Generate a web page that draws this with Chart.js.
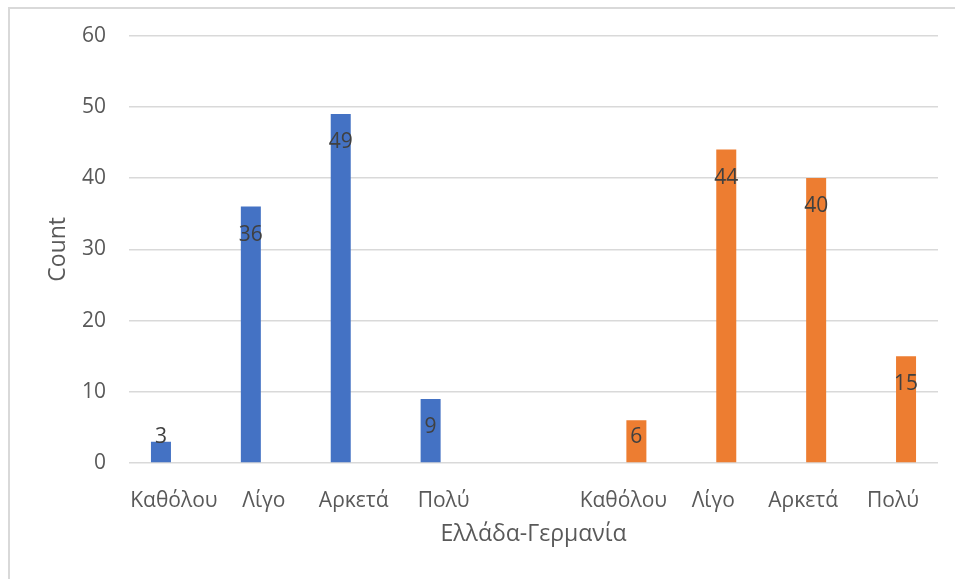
<!DOCTYPE html>
<html lang="el">
<head>
    <meta charset="UTF-8">
    <title>Ελλάδα-Γερμανία</title>
    <script src="https://cdn.jsdelivr.net/npm/chart.js"></script>
    <style>
        html, body { margin: 0; padding: 0; background: #fff; overflow: hidden; }
        .frame {
            position: absolute; left: 8px; top: 7px;
            width: 1000px; height: 700px;
            border-left: 2px solid #d9d9d9;
            border-top: 2px solid #d9d9d9;
        }
        .chart-box { position: absolute; left: 0; top: 0; width: 955px; height: 579px; }
    </style>
</head>
<body>
    <div class="frame"></div>
    <div class="chart-box">
        <canvas id="countChart"></canvas>
    </div>

    <script>
        // Answer categories, left group is Greece, right group is Germany (empty slot between)
        const categories = ['Καθόλου', 'Λίγο', 'Αρκετά', 'Πολύ', '', 'Καθόλου', 'Λίγο', 'Αρκετά', 'Πολύ'];
        const greece = [3, 36, 49, 9, null, null, null, null, null];
        const germany = [null, null, null, null, null, 6, 44, 40, 15];
        const yTicks = [0, 10, 20, 30, 40, 50, 60];

        const FONT = "'Open Sans', 'Noto Sans', sans-serif";
        const SIZE = 21;        // tick and value labels
        const TITLE_SIZE = 23;  // axis titles
        const textColor = '#595959';
        const gridColor = '#d9d9d9';

        // Value labels drawn just inside the top of each bar
        const barValues = {
            id: 'barValues',
            afterDatasetsDraw(chart) {
                const ctx = chart.ctx;
                ctx.save();
                ctx.font = SIZE + 'px ' + FONT;
                ctx.fillStyle = '#404040';
                ctx.textAlign = 'center';
                ctx.textBaseline = 'middle';
                chart.data.datasets.forEach((ds, i) => {
                    const meta = chart.getDatasetMeta(i);
                    meta.data.forEach((bar, j) => {
                        const v = ds.data[j];
                        if (v === null || v === undefined) return;
                        const y = Math.min(bar.y + 28, bar.base - 25);
                        ctx.fillText(String(v), bar.x, y);
                    });
                });
                ctx.restore();
            }
        };

        const ctx = document.getElementById('countChart').getContext('2d');
        const countChart = new Chart(ctx, {
            type: 'bar',
            data: {
                labels: categories,
                datasets: [
                    {
                        label: 'Ελλάδα',
                        data: greece,
                        backgroundColor: '#4472c4',
                        categoryPercentage: 0.578,
                        barPercentage: 0.77
                    },
                    {
                        label: 'Γερμανία',
                        data: germany,
                        backgroundColor: '#ed7d31',
                        categoryPercentage: 0.578,
                        barPercentage: 0.77
                    }
                ]
            },
            options: {
                responsive: true,
                maintainAspectRatio: false,
                animation: false,
                layout: { padding: { left: 0, top: 35, right: 17, bottom: 0 } },
                plugins: {
                    legend: { display: false },
                    tooltip: { enabled: false }
                },
                scales: {
                    x: {
                        grid: { display: false },
                        border: { display: false },
                        ticks: {
                            color: textColor,
                            font: { family: FONT, size: SIZE },
                            padding: 17,
                            maxRotation: 0,
                            autoSkip: false
                        },
                        title: {
                            display: true,
                            text: 'Ελλάδα-Γερμανία',
                            color: textColor,
                            font: { family: FONT, size: TITLE_SIZE },
                            padding: { top: 0, bottom: 31 }
                        },
                        afterFit(scale) { scale.height = 116; }
                    },
                    y: {
                        min: 0,
                        max: 60,
                        afterBuildTicks(scale) {
                            scale.ticks = yTicks.map(v => ({ value: v }));
                        },
                        grid: { color: gridColor, lineWidth: 1.5, drawTicks: false },
                        border: { display: false },
                        ticks: {
                            color: textColor,
                            font: { family: FONT, size: SIZE },
                            padding: 23
                        },
                        title: {
                            display: true,
                            text: 'Count',
                            color: textColor,
                            font: { family: FONT, size: TITLE_SIZE },
                            padding: { top: 45, bottom: 0 }
                        },
                        afterFit(scale) { scale.width = 129; }
                    }
                }
            },
            plugins: [barValues]
        });
    </script>
</body>
</html>
